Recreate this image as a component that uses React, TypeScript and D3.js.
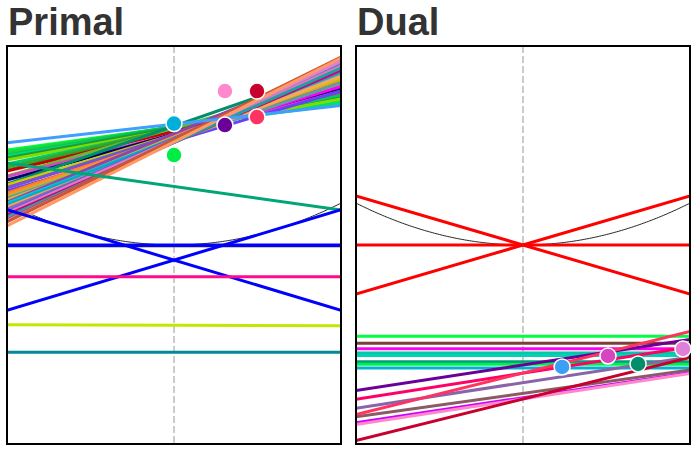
import React from 'react';
import * as d3 from 'd3';

const W = 697;
const H = 452;

// ---------- Primal panel data (x in [-1,1], y in data units) ----------
const fanColors = ['#00ff33','#00e64d','#2ecc40','#00c853','#00dd77','#1e9c3a','#7fdd00','#00cc66','#33aa33','#2ca02c','#cc0000','#66bb33','#d944c0','#000066','#008f6a','#cccc00','#ff00ff','#6a5acd','#6a3dff','#ff7f0e','#ff8c33','#bcbd22','#5f9ea0','#ddbb33','#8e44ad','#17becf','#00aacc','#ffa552','#9467bd','#4466dd','#e377c2','#cc0077','#20a0a0','#8888aa','#8c564b','#e07fd8','#cc5533','#ff9966'];
const fanLeft = [2.267,2.232,2.196,2.148,2.124,2.076,2.029,1.933,1.862,1.790,1.766,1.647,1.632,1.551,1.456,1.432,1.372,1.360,1.289,1.241,1.193,1.146,1.122,1.074,1.026,1.002,0.955,0.907,0.859,0.788,0.764,0.716,0.668,0.621,0.597,0.573,0.549,0.453];
const fanRight = [3.365,3.401,3.461,3.508,3.437,3.544,3.484,3.580,3.699,3.747,3.652,3.938,3.666,3.747,4.224,3.842,3.783,3.890,3.675,3.938,4.010,3.962,3.866,4.010,4.296,4.081,4.129,4.033,4.153,4.296,4.272,4.177,4.224,4.368,4.415,4.391,4.487,4.463];

const primalLineColors = ['#3f9fff','#00a676','#1a0f8c','#0000ff','#0000ff','#0000ff','#ff0a8c','#c5e600','#00899a'];
const primalLineLeft = [2.441,1.957,-0.015,0,0.84,-1.56,-0.757,-1.902,-2.561];
const primalLineRight = [3.329,0.835,-0.015,0,-1.56,0.84,-0.757,-1.926,-2.561];

const primalDotX = [0.305,0.497,0,0.305,0.497,0];
const primalDotY = [3.675,3.675,2.9,2.864,3.055,2.148];
const primalDotColors = ['#ff88cc','#c8002e','#00b0d8','#6a0098','#ff3361','#00ee44'];

// ---------- Dual panel data ----------
const dualLineColors = ['#ff0000','#ff0000','#ff0000','#00ff44','#7b3f33','#ff00ee','#00c8a8','#00d2b4','#009e7a','#00f050','#00b4d0','#6a0098','#ff0066','#8a64a8','#8b5a62','#cc00ff','#ff88cc','#ff3361','#c8002e'];
const dualLineLeft = [0,1.169,-1.169,-2.179,-2.346,-2.475,-2.578,-2.637,-2.785,-2.847,-2.936,-3.473,-3.683,-3.897,-4.098,-4.241,-4.284,-4.048,-4.668];
const dualLineRight = [0,-1.169,1.169,-2.179,-2.346,-2.475,-2.578,-2.637,-2.785,-2.847,-2.936,-2.255,-2.434,-2.673,-2.983,-3.048,-3.067,-2.062,-2.683];

const dualDotX = [0.234,0.509,0.689,0.958];
const dualDotY = [-2.912,-2.649,-2.840,-2.482];
const dualDotColors = ['#3a9ff5','#d944c0','#008f6a','#e07fd8'];

const xDomain: [number, number] = [-1, 1];
const yDomain: [number, number] = [-4.75, 4.75];

type PanelProps = {
  id: string;
  title: string;
  left: number;
  lineColors: string[];
  lineLeft: number[];
  lineRight: number[];
  dotX: number[];
  dotY: number[];
  dotColors: string[];
};

function Panel({ id, title, left, lineColors, lineLeft, lineRight, dotX, dotY, dotColors }: PanelProps) {
  const top = 46;
  const width = 334;
  const height = 398;
  const x = d3.scaleLinear().domain(xDomain).range([left, left + width]);
  const y = d3.scaleLinear().domain(yDomain).range([top + height, top]);
  const parabolaXs = d3.range(-1, 1.0001, 0.01);
  const parabola = d3.line<number>().x((d) => x(d)).y((d) => y(d * d))(parabolaXs) || '';

  return (
    <g>
      <text x={left + 1} y={34.5} fontFamily="'Liberation Sans', Arial, Helvetica, sans-serif" fontWeight="bold" fontSize={38} fill="#333">
        {title}
      </text>
      <defs>
        <clipPath id={`clip-${id}`}>
          <rect x={left} y={top} width={width} height={height} />
        </clipPath>
      </defs>
      <line x1={x(0)} x2={x(0)} y1={top} y2={top + height} stroke="#999" strokeWidth={1} strokeDasharray="7,3" />
      <g clipPath={`url(#clip-${id})`}>
        <path d={parabola} fill="none" stroke="#222" strokeWidth={1} />
        {lineColors.map((c, i) => (
          <line key={i} x1={x(-1)} x2={x(1)} y1={y(lineLeft[i])} y2={y(lineRight[i])} stroke={c} strokeWidth={3} />
        ))}
      </g>
      <rect x={left} y={top} width={width} height={height} fill="none" stroke="#000" strokeWidth={2} />
      {dotColors.map((c, i) => (
        <circle key={i} cx={x(dotX[i])} cy={y(dotY[i])} r={8} fill={c} stroke="#fff" strokeWidth={1.5} />
      ))}
    </g>
  );
}

export default function App() {
  return (
    <svg width={W} height={H} style={{ position: 'absolute', left: 0, top: 0, background: '#fff' }}>
      <Panel
        id="primal"
        title="Primal"
        left={7}
        lineColors={[...fanColors, ...primalLineColors]}
        lineLeft={[...fanLeft, ...primalLineLeft]}
        lineRight={[...fanRight, ...primalLineRight]}
        dotX={primalDotX}
        dotY={primalDotY}
        dotColors={primalDotColors}
      />
      <Panel
        id="dual"
        title="Dual"
        left={356}
        lineColors={dualLineColors}
        lineLeft={dualLineLeft}
        lineRight={dualLineRight}
        dotX={dualDotX}
        dotY={dualDotY}
        dotColors={dualDotColors}
      />
    </svg>
  );
}
